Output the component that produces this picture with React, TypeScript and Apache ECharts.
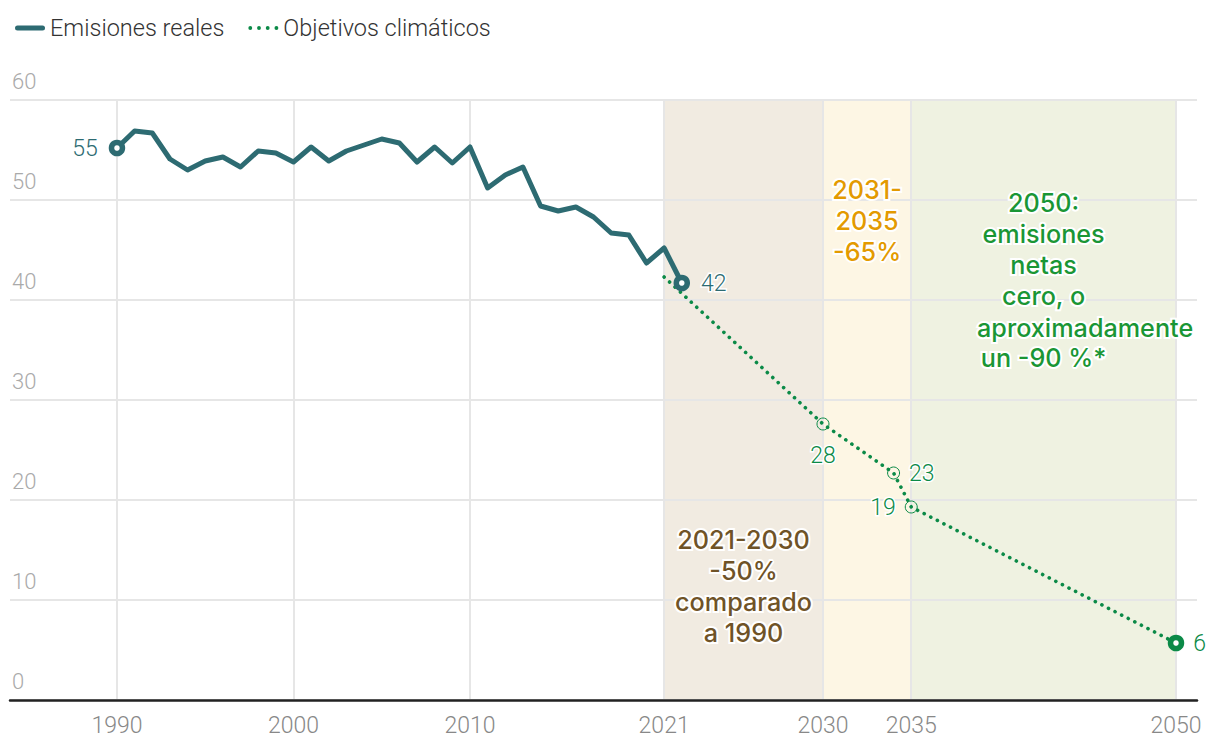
import React, { useEffect, useRef } from "react";
import * as echarts from "echarts";

// ---------- data ----------
const realYears = [
  1990, 1991, 1992, 1993, 1994, 1995, 1996, 1997, 1998, 1999, 2000, 2001, 2002, 2003, 2004, 2005, 2006,
  2007, 2008, 2009, 2010, 2011, 2012, 2013, 2014, 2015, 2016, 2017, 2018, 2019, 2020, 2021, 2022,
];
const realValues = [
  55.2, 56.9, 56.7, 54.1, 53.0, 53.9, 54.3, 53.3, 54.9, 54.7, 53.8, 55.3, 53.9, 54.9, 55.5, 56.1, 55.7,
  53.8, 55.3, 53.7, 55.3, 51.2, 52.5, 53.3, 49.4, 48.9, 49.3, 48.3, 46.7, 46.5, 43.7, 45.2, 41.7,
];
const targetYears = [2021, 2030, 2034, 2035, 2050];
const targetValues = [42.3, 27.6, 22.7, 19.3, 5.7];
const xTickYears = [1990, 2000, 2010, 2021, 2030, 2035, 2050];
const yTickValues = [0, 10, 20, 30, 40, 50, 60];
const bandStarts = [2021, 2030, 2035];
const bandEnds = [2030, 2035, 2050];
const seriesNames = ["Emisiones reales", "Objetivos climáticos"];

const bandTexts = [
  ["2021-2030", "-50%", "comparado", "a 1990"],
  ["2031-", "2035", "-65%"],
  ["2050:", "emisiones", "netas", "cero, o", "", "un -90 %*"],
  ["aproximadamente"],
];
const bandTextAnchors = [
  [2025.5, 11.4],
  [2032.5, 47.9],
  [2042.5, 41.95],
  [2044.85, 37.2],
];

// ---------- styles ----------
const TEAL = "#2d6b72";
const GREEN = "#0b8a47";
const BAND_COLORS = ["#f1ebe1", "#fdf6e4", "#eff2e1"];
const BAND_TEXT_COLORS = ["#6f5327", "#e39a00", "#1a9635", "#1a9635"];
const GRID = "#e6e6e6";

const linePath = "path://M2.5,0H27.5A2.5,2.5 0 0 1 27.5,5H2.5A2.5,2.5 0 0 1 2.5,0Z";
const dotsPath =
  "path://M0.5,2.5a2,2 0 1,0 4,0a2,2 0 1,0 -4,0Z M9.5,2.5a2,2 0 1,0 4,0a2,2 0 1,0 -4,0Z M18.5,2.5a2,2 0 1,0 4,0a2,2 0 1,0 -4,0Z M27.5,2.5a2,2 0 1,0 4,0a2,2 0 1,0 -4,0Z";

export default function App() {
  const ref = useRef<HTMLDivElement>(null);

  useEffect(() => {
    if (!ref.current) return;
    const chart = echarts.init(ref.current, null, { renderer: "svg" });

    const valueLabel = (position: string, color: string, distance: number) => ({
      show: true,
      position,
      distance,
      color,
      fontFamily: "Roboto",
      fontWeight: 300,
      fontSize: 23,
      textBorderColor: "#fff",
      textBorderWidth: 3,
      formatter: (p: any) => String(Math.round(p.value[1])),
    });

    const realEnds = [0, realYears.length - 1].map((i, k) => ({
      value: [realYears[i], realValues[i]],
      label: valueLabel(k === 0 ? "left" : "right", TEAL, 11),
    }));

    const targetLabelPos = ["", "bottom", "right", "left", "right"];
    const targetMarks = targetYears.slice(1).map((y, j) => {
      const i = j + 1;
      const isEnd = i === targetYears.length - 1;
      return {
        value: [y, targetValues[i]],
        symbolSize: isEnd ? 11 : 12,
        itemStyle: isEnd
          ? { color: "#fff", borderColor: GREEN, borderWidth: 5.5, opacity: 1 }
          : { color: "rgba(0,0,0,0)", borderColor: GREEN, borderWidth: 1, opacity: 1 },
        label: valueLabel(targetLabelPos[i], GREEN, i === 1 ? 13 : 9),
      };
    });

    const annotations = bandTexts.map((lines, i) => ({
      value: bandTextAnchors[i],
      label: {
        show: true,
        position: "inside",
        formatter: lines.join("\n"),
        color: BAND_TEXT_COLORS[i],
        fontFamily: "Inter",
        fontWeight: 500,
        fontSize: 25.2,
        lineHeight: 31,
        align: "center",
        verticalAlign: "middle",
        textBorderColor: "#fff",
        textBorderWidth: 4,
      },
    }));

    chart.setOption({
      animation: false,
      legend: {
        left: 10,
        top: 11,
        itemWidth: 30,
        itemHeight: 5,
        itemGap: 24,
        textStyle: { color: "#333", fontSize: 23.5, fontFamily: "Roboto", fontWeight: 300 },
        data: [
          { name: seriesNames[0], icon: linePath },
          { name: seriesNames[1], icon: dotsPath },
        ],
        selectedMode: false,
      },
      grid: { left: 10, right: 23, top: 100, bottom: 52, containLabel: false },
      xAxis: {
        type: "value",
        min: 1983.94,
        max: 2051.19,
        axisLine: { show: true, lineStyle: { color: "#222", width: 2.5 } },
        axisTick: { show: false, customValues: xTickYears },
        axisLabel: {
          customValues: xTickYears,
          color: "#888",
          fontFamily: "Roboto",
          fontWeight: 300,
          fontSize: 23,
          margin: 14,
          formatter: (v: number) => String(v),
        },
        splitLine: { show: true, lineStyle: { color: GRID, width: 2 } },
      },
      yAxis: {
        type: "value",
        min: 0,
        max: 60,
        interval: 10,
        axisLine: { show: false },
        axisTick: { show: false },
        axisLabel: {
          inside: true,
          margin: 2,
          align: "left",
          verticalAlign: "bottom",
          padding: [0, 0, 8, 0],
          color: "#aaa",
          fontFamily: "Roboto",
          fontWeight: 300,
          fontSize: 22,
          formatter: (v: number) => (yTickValues.includes(v) ? String(v) : ""),
        },
        splitLine: { show: true, lineStyle: { color: GRID, width: 2 } },
      },
      series: [
        {
          type: "line",
          name: "bands",
          data: [],
          silent: true,
          markArea: {
            silent: true,
            z: -1,
            data: bandStarts.map((s, i) => [
              { xAxis: s, yAxis: 0, itemStyle: { color: BAND_COLORS[i] } },
              { xAxis: bandEnds[i], yAxis: 60 },
            ]),
          },
        },
        {
          type: "scatter",
          name: "annotations",
          data: annotations,
          symbolSize: 0,
          itemStyle: { opacity: 1 },
          silent: true,
          z: 2,
        },
        {
          type: "line",
          name: seriesNames[1],
          data: targetYears.map((y, i) => [y, targetValues[i]]),
          symbol: "none",
          itemStyle: { color: GREEN },
          lineStyle: { color: GREEN, width: 3.6, type: [0.1, 7.3], cap: "round" },
          z: 3,
        },
        {
          type: "line",
          name: seriesNames[0],
          data: realYears.map((y, i) => [y, realValues[i]]),
          symbol: "none",
          itemStyle: { color: TEAL },
          lineStyle: { color: TEAL, width: 5, join: "round" },
          z: 4,
        },
        {
          type: "scatter",
          name: "realEnds",
          data: realEnds,
          symbol: "circle",
          symbolSize: 11,
          itemStyle: { color: "#fff", borderColor: TEAL, borderWidth: 5.5, opacity: 1 },
          z: 5,
        },
        {
          type: "scatter",
          name: "targetMarks",
          data: targetMarks,
          symbol: "circle",
          itemStyle: { opacity: 1 },
          z: 5,
        },
      ],
    });

    return () => chart.dispose();
  }, []);

  return (
    <div
      ref={ref}
      style={{ position: "fixed", left: 0, top: 0, width: 1220, height: 752, background: "#fff" }}
    />
  );
}
